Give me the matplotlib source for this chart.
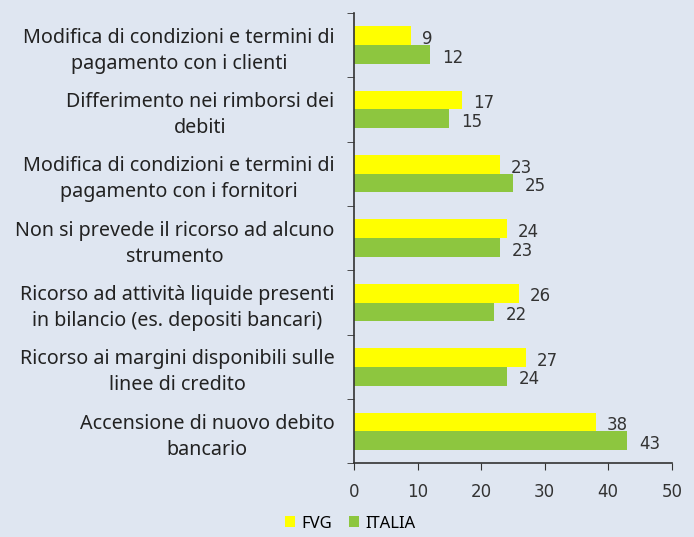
import numpy as np
import matplotlib.pyplot as plt
from matplotlib.ticker import FixedLocator

categories = [
    "Modifica di condizioni e termini di\npagamento con i clienti",
    "Differimento nei rimborsi dei\ndebiti",
    "Modifica di condizioni e termini di\npagamento con i fornitori",
    "Non si prevede il ricorso ad alcuno\nstrumento",
    "Ricorso ad attività liquide presenti\nin bilancio (es. depositi bancari)",
    "Ricorso ai margini disponibili sulle\nlinee di credito",
    "Accensione di nuovo debito\nbancario",
]
fvg = [9, 17, 23, 24, 26, 27, 38]
italia = [12, 15, 25, 23, 22, 24, 43]

bg = "#dfe6f1"
yellow = "#ffff00"
green = "#8dc63f"
dark = "#333333"

fig = plt.figure(figsize=(6.94, 5.37), dpi=100, facecolor=bg)
ax = fig.add_axes([0.510, 0.137, 0.458, 0.839], facecolor=bg)

y = np.arange(len(categories))
h = 0.29
ax.barh(y - h / 2, fvg, height=h, color=yellow, label="FVG")
ax.barh(y + h / 2, italia, height=h, color=green, label="ITALIA")

for yi, v in zip(y, fvg):
    ax.text(v + 1.7, yi - h / 2 + 0.05, str(v), va="center", ha="left",
            fontsize=12, color=dark, family="DejaVu Sans")
for yi, v in zip(y, italia):
    ax.text(v + 1.9, yi + h / 2 + 0.05, str(v), va="center", ha="left",
            fontsize=12, color=dark, family="DejaVu Sans")

ax.set_xlim(0, 50)
ax.set_ylim(len(categories) - 0.5, -0.5)
ax.set_xticks([0, 10, 20, 30, 40, 50])
ax.set_xticklabels([str(t) for t in [0, 10, 20, 30, 40, 50]], family="DejaVu Sans")
ax.tick_params(axis="x", direction="out", length=5, color=dark, labelcolor=dark,
               labelsize=12, pad=9)
ax.set_yticks(y)
ax.set_yticklabels(categories, ha="right", multialignment="center",
                   fontsize=14.2, color="#222222", family="Noto Sans")
for lab in ax.get_yticklabels():
    lab.set_linespacing(1.4)
ax.tick_params(axis="y", which="major", length=0, pad=14)
ax.yaxis.set_minor_locator(FixedLocator(np.arange(-0.5, len(categories), 1.0)))
ax.tick_params(axis="y", which="minor", length=5, color=dark)

for s in ["top", "right"]:
    ax.spines[s].set_visible(False)
for s in ["left", "bottom"]:
    ax.spines[s].set_color(dark)
    ax.spines[s].set_linewidth(1.2)

fig.legend(loc="lower center", bbox_to_anchor=(0.505, -0.018), ncol=2, frameon=False,
           handlelength=0.6, handleheight=0.6, handletextpad=0.4, columnspacing=1.0,
           prop={"family": "Noto Sans", "size": 12})

fig.savefig("out.png", dpi=100, facecolor=bg)
